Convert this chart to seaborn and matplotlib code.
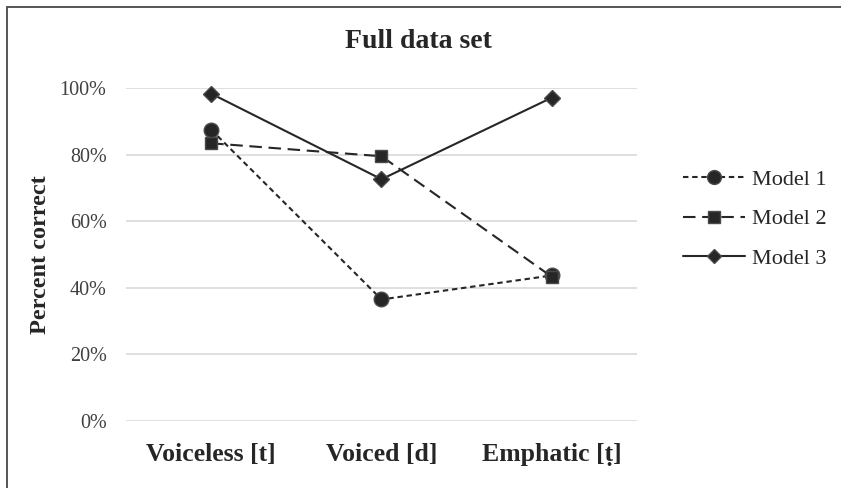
import matplotlib
matplotlib.use("Agg")
import matplotlib.pyplot as plt
from matplotlib.lines import Line2D
from matplotlib.ticker import PercentFormatter
import seaborn as sns
import pandas as pd

# Recognition accuracy per consonant class
categories = ["Voiceless [t]", "Voiced [d]", "Emphatic [\u1e6d]"]
model_1 = [0.875, 0.365, 0.437]
model_2 = [0.834, 0.795, 0.433]
model_3 = [0.983, 0.726, 0.971]
model_names = ["Model 1", "Model 2", "Model 3"]
y_ticks = [0.0, 0.2, 0.4, 0.6, 0.8, 1.0]

df = pd.DataFrame({
    "category": categories * 3,
    "value": model_1 + model_2 + model_3,
    "model": [m for m in model_names for _ in categories],
})

sns.set_theme(style="white")
serif = ["Liberation Serif", "DejaVu Serif"]
plt.rcParams["font.family"] = serif

fig = plt.figure(figsize=(8.41, 4.88), dpi=100)
ax = fig.add_axes([126 / 841, 67 / 488, 511 / 841, 333 / 488])

ink = "#262626"
markers = {"Model 1": "o", "Model 2": "s", "Model 3": "D"}
dashes = {"Model 1": (2.6, 1.8), "Model 2": (6.0, 3.2), "Model 3": ""}

sns.lineplot(
    data=df, x="category", y="value", style="model",
    markers=markers, dashes=dashes, color=ink, linewidth=1.5,
    markeredgecolor="#4a4a4a", markeredgewidth=1.0, ax=ax, legend=False,
    sort=False,
)
sizes = {"Model 1": 10.5, "Model 2": 9, "Model 3": 8}
for line, name in zip(ax.lines, model_names):
    line.set_markersize(sizes[name])
    line.set_clip_on(False)
    line.set_zorder(3)

ax.set_xlim(-0.5, 2.5)
ax.set_ylim(0, 1.0)
ax.set_yticks(y_ticks)
ax.yaxis.set_major_formatter(PercentFormatter(1.0, decimals=0))
ax.grid(axis="y", color="#d9d9d9", linewidth=1.2)
ax.set_axisbelow(True)
for s in ax.spines.values():
    s.set_visible(False)
ax.tick_params(axis="both", length=0)
ax.tick_params(axis="y", pad=14, labelsize=14.5, labelcolor="#404040")
ax.tick_params(axis="x", pad=16, labelsize=18.5, labelcolor="#262626")
for lab in ax.get_xticklabels():
    lab.set_fontweight("bold")
ax.set_xlabel("")
ax.set_ylabel("Percent correct", fontsize=17.5, fontweight="bold", color="#262626")
ax.yaxis.set_label_coords(-75 / 511, 0.5)

fig.text(0.498, 1 - 42 / 488, "Full data set", ha="center", va="center",
         fontsize=20, fontweight="bold", color="#262626")

# Legend built from the same styles as the lines
handles = []
for line, name in zip(ax.lines, model_names):
    h = Line2D([], [], color=ink, linewidth=1.5, linestyle=line.get_linestyle(),
               marker=markers[name], markersize=sizes[name] * 0.95,
               markeredgecolor="#4a4a4a", markeredgewidth=1.0)
    if dashes[name]:
        h.set_dashes(dashes[name])
    handles.append(h)
fig.legend(handles, model_names, loc="center left",
           bbox_to_anchor=(683 / 841, 1 - 219 / 488), frameon=False,
           fontsize=16, handlelength=2.8, handletextpad=0.3, labelspacing=0.85,
           borderpad=0.0, borderaxespad=0.0, labelcolor="#262626")

# Frame edges along the top and left of the canvas
fig.add_artist(Line2D([6.5 / 841, 1], [1 - 6.5 / 488] * 2, color="#555555", linewidth=1.4,
                      transform=fig.transFigure))
fig.add_artist(Line2D([6.5 / 841] * 2, [0, 1 - 6.5 / 488], color="#555555", linewidth=1.4,
                      transform=fig.transFigure))

fig.savefig("out.png", dpi=100, facecolor="white")
